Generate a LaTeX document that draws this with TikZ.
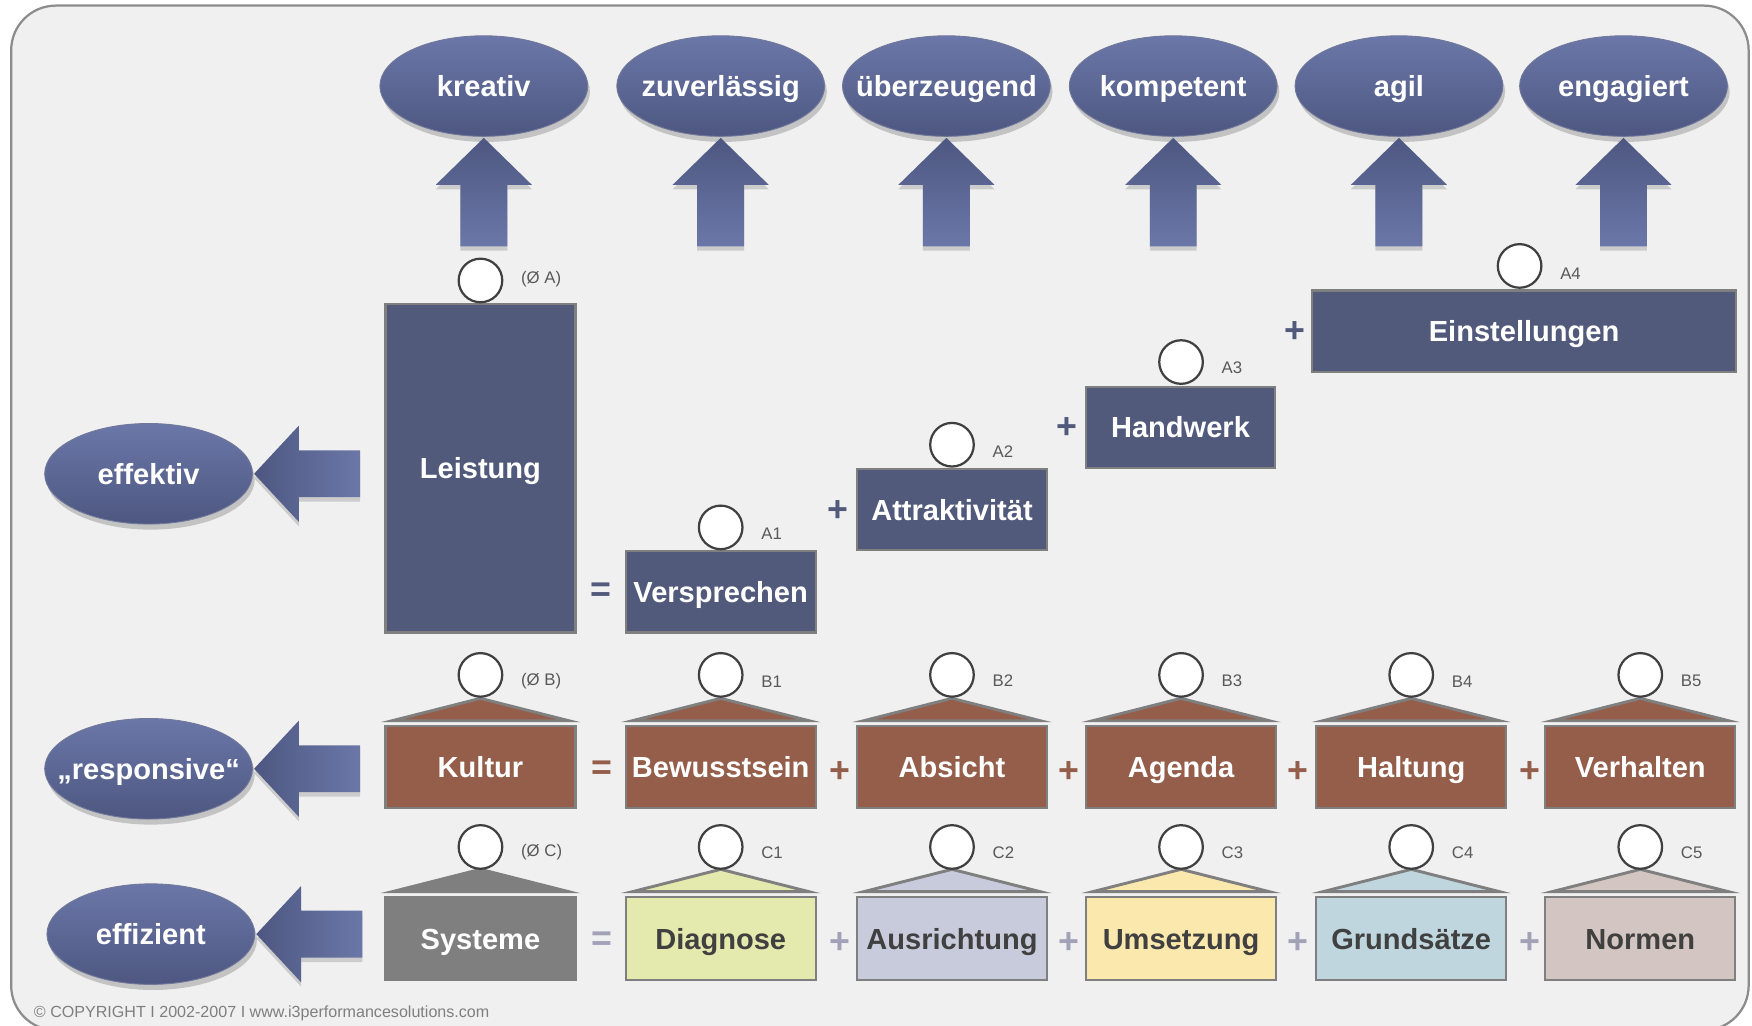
\documentclass[tikz,border=0pt]{standalone}
\usepackage{fontspec}
\setmainfont{Liberation Sans}
\usetikzlibrary{shapes.geometric,shadows}
\definecolor{slate}{HTML}{525A7C}
\definecolor{brownb}{HTML}{945E4A}
\definecolor{grayc}{HTML}{7F7F7F}
\definecolor{diag}{HTML}{E4E9AD}
\definecolor{ausr}{HTML}{C8CBDB}
\definecolor{umse}{HTML}{FBE8AD}
\definecolor{grund}{HTML}{C0D6DE}
\definecolor{norm}{HTML}{D3C6C2}
\definecolor{elltop}{HTML}{6B77A8}
\definecolor{ellbot}{HTML}{4D5781}
\definecolor{bordergray}{HTML}{7F7F7F}
\definecolor{bg}{HTML}{F0F0F0}
\definecolor{framec}{HTML}{8C8C8C}
\definecolor{lbl}{HTML}{595959}
\definecolor{plusc}{HTML}{A3A1B8}
\definecolor{darktext}{HTML}{404040}
\newcommand\zw[1]{\makebox[0pt]{#1}}
\begin{document}
\begin{tikzpicture}[x=0.5pt,y=-0.5pt,
  bigfont/.style={font=\fontsize{13}{15}\selectfont\bfseries, text height=9.4pt, text depth=0pt},
  oval/.style={ellipse, minimum width=93pt, minimum height=45pt, top color=elltop, bottom color=ellbot, draw=ellbot!80!white, line width=0.4pt, text=white, bigfont, inner sep=0pt, drop shadow={shadow xshift=1pt, shadow yshift=-2.5pt, fill=black!35, opacity=0.6}},
  box/.style={rectangle, draw=bordergray, line width=1pt, bigfont, inner sep=0pt},
  abox/.style={box, fill=slate, text=white},
  bbox/.style={box, fill=brownb, text=white, minimum width=85pt, minimum height=36.5pt},
  cbox/.style={box, text=darktext, minimum width=85pt, minimum height=37pt},
  head/.style={circle, draw=darktext, fill=white, line width=1pt, minimum size=19.5pt, inner sep=0pt},
  tag/.style={font=\fontsize{7.5}{9}\selectfont, text=lbl, inner sep=0pt, anchor=west},
  op/.style={font=\fontsize{16}{18}\selectfont\bfseries, inner sep=0pt},
  roof/.style={draw=bordergray, line width=1.3pt, line join=miter},
  upblock/.pic={
    \fill[black!20] (0,4) -- (43,46) -- (21,46) -- (21,101) -- (-21,101) -- (-21,46) -- (-43,46) -- cycle;
    \shade[top color=ellbot, bottom color=elltop] (0,0) -- (43,42) -- (21,42) -- (21,97) -- (-21,97) -- (-21,42) -- (-43,42) -- cycle;
  },
  leftblock/.pic={
    \fill[black!20] (0,4) -- (40,-39) -- (40,-17) -- (95,-17) -- (95,25) -- (40,25) -- (40,47) -- cycle;
    \shade[left color=ellbot, right color=elltop] (0,0) -- (40,-43) -- (40,-21) -- (95,-21) -- (95,21) -- (40,21) -- (40,43) -- cycle;
  },
]
\useasboundingbox (0,0) rectangle (1568,918);
\draw[fill=bg, draw=framec, line width=1pt, rounded corners=20] (10,5) rectangle (1565,922);

% top ellipses
\node[oval] (kreativ) at (433,77) {\zw{kreativ}};
\node[oval] (zuverl) at (645,77) {\zw{zuverlässig}};
\node[oval] (ueberz) at (847,77) {\zw{überzeugend}};
\node[oval] (kompet) at (1050,77) {\zw{kompetent}};
\node[oval] (agil) at (1252,77) {\zw{agil}};
\node[oval] (engag) at (1453,77) {\zw{engagiert}};
\foreach \n in {kreativ,zuverl,ueberz,kompet,agil,engag}
  \pic at ([yshift=-0.5pt]\n.south) {upblock};

% left ellipses
\node[oval] (effektiv) at (133,424) {\zw{effektiv}};
\node[oval] (respons) at (133,688) {\zw{„responsive“}};
\node[oval] (effiz) at (135,836) {\zw{effizient}};
\foreach \n in {effektiv,respons,effiz}
  \pic at ([xshift=0.5pt]\n.east) {leftblock};

% row A
\node[abox, minimum width=85pt, minimum height=147pt] (leistung) at (430,419) {Leistung};
\node[abox, minimum width=85pt, minimum height=36.5pt] (verspr) at (645,529.5) {\zw{Versprechen}};
\node[abox, minimum width=85pt, minimum height=36pt] (attrakt) at (852,456) {\zw{Attraktivität}};
\node[abox, minimum width=84.5pt, minimum height=36.5pt] (handw) at (1056.5,382.5) {Handwerk};
\node[abox, minimum width=190pt, minimum height=36.5pt] (einst) at (1364,296.5) {Einstellungen};
\node[head] (hA) at (430,251) {};
\node[head] (hA1) at (645,472) {};
\node[head] (hA2) at (852,398) {};
\node[head] (hA3) at (1057,324) {};
\node[head] (hA4) at (1360,238) {};
\node[tag] (tA) at (466,250) {(Ø A)};
\node[tag] (tA1) at (681,478) {A1};
\node[tag] (tA2) at (888,404) {A2};
\node[tag] (tA3) at (1093,329) {A3};
\node[tag] (tA4) at (1396,245) {A4};
\node[op, text=slate] (eqA) at (538,530) {=};
\node[op, text=slate] (pA2) at (750,457) {+};
\node[op, text=slate] (pA3) at (955,383) {+};
\node[op, text=slate] (pA4) at (1159,297) {+};

% row B roofs
\foreach \cx in {430,645,852,1057,1263,1468}
  \filldraw[roof, fill=brownb] (\cx-79,645) -- (\cx,625) -- (\cx+79,645) -- cycle;
\node[bbox] (kultur) at (430,686.5) {Kultur};
\node[bbox] (bewus) at (645,686.5) {\zw{Bewusstsein}};
\node[bbox] (absicht) at (852,686.5) {Absicht};
\node[bbox] (agenda) at (1057,686.5) {Agenda};
\node[bbox] (haltung) at (1263,686.5) {Haltung};
\node[bbox] (verh) at (1468,686.5) {Verhalten};
\foreach \cx/\nm in {430/hB,645/hB1,852/hB2,1057/hB3,1263/hB4,1468/hB5}
  \node[head] (\nm) at (\cx,604) {};
\node[tag] (tB) at (466,610) {(Ø B)};
\node[tag] (tB1) at (681,610) {B1};
\node[tag] (tB2) at (888,609) {B2};
\node[tag] (tB3) at (1093,609) {B3};
\node[tag] (tB4) at (1299,610) {B4};
\node[tag] (tB5) at (1504,609) {B5};
\node[op, text=brownb] (eqB) at (539,689) {=};
\node[op, text=brownb] (pB2) at (752,691) {+};
\node[op, text=brownb] (pB3) at (957,691) {+};
\node[op, text=brownb] (pB4) at (1162,691) {+};
\node[op, text=brownb] (pB5) at (1369,691) {+};

% row C roofs
\foreach \cx/\col in {430/grayc,645/diag,852/ausr,1057/umse,1263/grund,1468/norm}
  \filldraw[roof, fill=\col] (\cx-79,798) -- (\cx,778) -- (\cx+79,798) -- cycle;
\node[cbox, fill=grayc, text=white] (systeme) at (430,840) {Systeme};
\node[cbox, fill=diag] (diagnose) at (645,840) {Diagnose};
\node[cbox, fill=ausr] (ausr) at (852,840) {\zw{Ausrichtung}};
\node[cbox, fill=umse] (umsetz) at (1057,840) {\zw{Umsetzung}};
\node[cbox, fill=grund] (grunds) at (1263,840) {\zw{Grundsätze}};
\node[cbox, fill=norm] (normen) at (1468,840) {Normen};
\foreach \cx/\nm in {430/hC,645/hC1,852/hC2,1057/hC3,1263/hC4,1468/hC5}
  \node[head] (\nm) at (\cx,758) {};
\node[tag] (tC) at (466,763) {(Ø C)};
\node[tag] (tC1) at (681,763) {C1};
\node[tag] (tC2) at (888,763) {C2};
\node[tag] (tC3) at (1093,763) {C3};
\node[tag] (tC4) at (1299,763) {C4};
\node[tag] (tC5) at (1504,763) {C5};
\node[op, text=plusc] (eqC) at (539,842) {=};
\node[op, text=plusc] (pC2) at (752,844) {+};
\node[op, text=plusc] (pC3) at (957,844) {+};
\node[op, text=plusc] (pC4) at (1162,844) {+};
\node[op, text=plusc] (pC5) at (1369,844) {+};

\node[anchor=west, font=\fontsize{7.2}{9}\selectfont, text=grayc, inner sep=0pt] (copy) at (30,907) {© COPYRIGHT I 2002-2007 I www.i3performancesolutions.com};
\end{tikzpicture}
\end{document}
